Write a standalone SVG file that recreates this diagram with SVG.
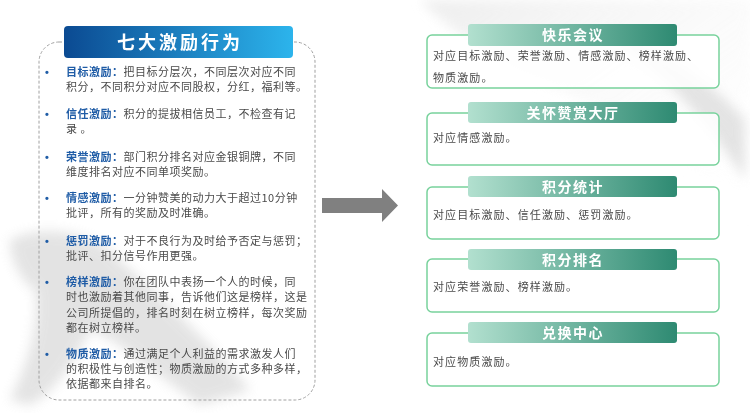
<svg xmlns="http://www.w3.org/2000/svg" width="750" height="413" viewBox="0 0 750 413">
<defs>
<linearGradient id="gTitle" x1="0" y1="0" x2="1" y2="0">
<stop offset="0" stop-color="#0b4a92"/>
<stop offset="1" stop-color="#2cb4ec"/>
</linearGradient>
<linearGradient id="gHead" x1="0" y1="0" x2="1" y2="0">
<stop offset="0" stop-color="#b2e0cf"/>
<stop offset="1" stop-color="#2e8a72"/>
</linearGradient>
<linearGradient id="gBg" x1="0" y1="0" x2="1" y2="1">
<stop offset="0" stop-color="#e6e6e6"/>
<stop offset="1" stop-color="#ffffff" stop-opacity="0"/>
</linearGradient>
<filter id="blur" x="-20%" y="-20%" width="140%" height="140%"><feGaussianBlur stdDeviation="6"/></filter>
<style>
.body{font-family:"Noto Sans CJK SC","Liberation Sans",sans-serif;font-size:11px;letter-spacing:0.5px;fill:#4a4a4a}
.lbl{font-family:"Noto Sans CJK SC","Liberation Sans",sans-serif;font-size:11px;letter-spacing:0.5px;fill:#1f5ca6;font-weight:bold}
.bul{font-family:"Liberation Sans",sans-serif;font-size:11px;fill:#1f5ca6;font-weight:bold}
.rt{font-family:"Noto Sans CJK SC","Liberation Sans",sans-serif;font-size:11px;letter-spacing:1.1px;fill:#4a4a4a}
.hd{font-family:"Noto Sans CJK SC","Liberation Sans",sans-serif;font-size:14px;letter-spacing:1.5px;fill:#ffffff;font-weight:bold;text-anchor:middle}
.box{fill:#ffffff;fill-opacity:0.85;stroke:#78d29c;stroke-width:1.5}
.bar{fill:url(#gHead)}
</style>
</defs>
<rect width="750" height="413" fill="#ffffff"/>
<g id="background" opacity="0.7">
<path d="M420 0 L750 0 L750 230 C700 170 640 120 560 90 C510 70 460 40 420 0 Z" fill="url(#gBg)" filter="url(#blur)"/>
<path d="M600 30 C650 60 700 110 745 180 L745 120 C710 80 660 45 600 30 Z" fill="#d8d8d8" filter="url(#blur)"/>
<path d="M10 240 C40 225 80 230 110 250 C150 290 200 330 250 390 L200 405 C150 370 120 340 90 330 C70 370 50 395 30 405 L10 400 C30 360 40 320 35 290 C20 280 10 260 10 240 Z" fill="#c8c8c8" filter="url(#blur)" opacity="0.7"/>
</g>
<g id="left-panel">
<rect x="39" y="42" width="276" height="358" rx="20" fill="none" stroke="#a0a0a0" stroke-width="1" stroke-dasharray="3,2"/>
<rect x="64" y="26" width="229" height="32" rx="4" fill="url(#gTitle)"/>
<text x="180" y="49" font-family="Noto Sans CJK SC,Liberation Sans,sans-serif" font-size="18" font-weight="bold" letter-spacing="3" fill="#ffffff" text-anchor="middle">七大激励行为</text>
<g id="item1">
<text class="bul" x="45" y="76">•</text>
<text class="lbl" x="66" y="76">目标激励：</text>
<text class="body" x="123.5" y="76">把目标分层次，不同层次对应不同</text>
<text class="body" x="66" y="91">积分，不同积分对应不同股权，分红，福利等。</text>
</g>
<g id="item2">
<text class="bul" x="45" y="118">•</text>
<text class="lbl" x="66" y="118">信任激励：</text>
<text class="body" x="123.5" y="118">积分的提拔相信员工，不检查有记</text>
<text class="body" x="66" y="133">录 。</text>
</g>
<g id="item3">
<text class="bul" x="45" y="161">•</text>
<text class="lbl" x="66" y="161">荣誉激励：</text>
<text class="body" x="123.5" y="161">部门积分排名对应金银铜牌，不同</text>
<text class="body" x="66" y="176">维度排名对应不同单项奖励。</text>
</g>
<g id="item4">
<text class="bul" x="45" y="202">•</text>
<text class="lbl" x="66" y="202">情感激励：</text>
<text class="body" x="123.5" y="202">一分钟赞美的动力大于超过10分钟</text>
<text class="body" x="66" y="217">批评，所有的奖励及时准确。</text>
</g>
<g id="item5">
<text class="bul" x="45" y="245">•</text>
<text class="lbl" x="66" y="245">惩罚激励：</text>
<text class="body" x="123.5" y="245">对于不良行为及时给予否定与惩罚；</text>
<text class="body" x="66" y="260">批评、扣分信号作用更强。</text>
</g>
<g id="item6">
<text class="bul" x="45" y="286">•</text>
<text class="lbl" x="66" y="286">榜样激励：</text>
<text class="body" x="123.5" y="286">你在团队中表扬一个人的时候，同</text>
<text class="body" x="66" y="301">时也激励着其他同事，告诉他们这是榜样，这是</text>
<text class="body" x="66" y="317">公司所提倡的，排名时刻在树立榜样，每次奖励</text>
<text class="body" x="66" y="332">都在树立榜样。</text>
</g>
<g id="item7">
<text class="bul" x="45" y="358">•</text>
<text class="lbl" x="66" y="358">物质激励：</text>
<text class="body" x="123.5" y="358">通过满足个人利益的需求激发人们</text>
<text class="body" x="66" y="373">的积极性与创造性；物质激励的方式多种多样，</text>
<text class="body" x="66" y="388">依据都来自排名。</text>
</g>
</g>
<g id="connectors">
<polygon points="322,198 382,198 382,189 398,205.5 382,222 382,213 322,213" fill="#808080"/>
</g>
<g id="node-kuaile">
<rect class="box" x="427" y="35" width="292" height="53" rx="5"/>
<rect class="bar" x="468" y="24" width="209" height="22" rx="3"/>
<text class="hd" x="573" y="40">快乐会议</text>
<text class="rt" x="433" y="60">对应目标激励、荣誉激励、情感激励、榜样激励、</text>
<text class="rt" x="433" y="82">物质激励。</text>
</g>
<g id="node-guanhuai">
<rect class="box" x="427" y="113" width="292" height="52" rx="5"/>
<rect class="bar" x="468" y="102" width="209" height="21" rx="3"/>
<text class="hd" x="573" y="118">关怀赞赏大厅</text>
<text class="rt" x="433" y="142">对应情感激励。</text>
</g>
<g id="node-tongji">
<rect class="box" x="427" y="187" width="292" height="52" rx="5"/>
<rect class="bar" x="468" y="176" width="209" height="21" rx="3"/>
<text class="hd" x="573" y="192">积分统计</text>
<text class="rt" x="433" y="219">对应目标激励、信任激励、惩罚激励。</text>
</g>
<g id="node-paiming">
<rect class="box" x="427" y="259" width="292" height="53" rx="5"/>
<rect class="bar" x="468" y="249" width="209" height="21" rx="3"/>
<text class="hd" x="573" y="265">积分排名</text>
<text class="rt" x="433" y="291">对应荣誉激励、榜样激励。</text>
</g>
<g id="node-duihuan">
<rect class="box" x="427" y="333" width="292" height="53" rx="5"/>
<rect class="bar" x="468" y="322" width="209" height="21" rx="3"/>
<text class="hd" x="573" y="338">兑换中心</text>
<text class="rt" x="433" y="366">对应物质激励。</text>
</g>
</svg>
